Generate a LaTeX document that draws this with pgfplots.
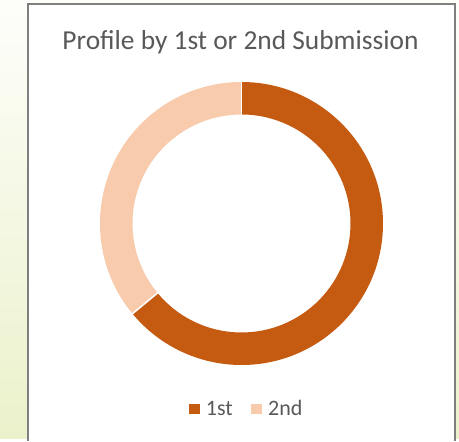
\documentclass[border=0pt]{standalone}
\usepackage{fontspec}
\setmainfont{Carlito}
\usepackage{pgfplots}
\usepackage{pgfplotstable}
\pgfplotsset{compat=1.18}
\definecolor{first}{HTML}{C55A11}
\definecolor{second}{HTML}{F8CBAD}
\definecolor{txt}{HTML}{595959}
\definecolor{framec}{HTML}{7F7F7F}
\definecolor{bggreen}{HTML}{E2EBB3}
\pgfdeclareverticalshading{bgshade}{100bp}{color(0bp)=(bggreen); color(80bp)=(white); color(100bp)=(white)}
\pgfplotstableread{
label value
1st 64
2nd 36
}\donutdata
\begin{document}
\begin{tikzpicture}
\begin{axis}[
  width=459pt, height=439pt, scale only axis,
  xmin=0, xmax=459, ymin=0, ymax=439,
  hide axis, clip=false,
  legend columns=2,
  legend style={draw=none, fill=none, at={(axis cs:246.5,30)}, anchor=center,
    font=\fontsize{22}{26}\selectfont\color{txt},
    /tikz/every odd column/.append style={column sep=0pt},
    /tikz/every even column/.append style={column sep=16pt},
    legend cell align=left, inner sep=0pt},
  legend image code/.code={\fill[#1] (0pt,-4.5pt) rectangle (10pt,4.5pt); \path (15pt,0pt);},
]
% background and frame
\path[shading=bgshade] (axis cs:0,0) rectangle (axis cs:459,439);
\fill[white] (axis cs:28,0) rectangle (axis cs:455,435);
\draw[framec, line width=2pt] (axis cs:28,-2) -- (axis cs:28,435) -- (axis cs:455,435) -- (axis cs:455,-2);
% donut from table values
\pgfplotstablegetelem{0}{value}\of\donutdata \let\va\pgfplotsretval
\pgfplotstablegetelem{1}{value}\of\donutdata \let\vb\pgfplotsretval
\pgfmathsetmacro{\tot}{\va+\vb}
\pgfmathsetmacro{\angA}{90-360*(\va/\tot)}
\pgfmathsetmacro{\angB}{\angA-360*(\vb/\tot)}
\coordinate (c) at (axis cs:241.5,215.5);
\fill[first] ([shift={(90:141.5pt)}]c) arc[start angle=90, end angle=\angA, radius=141.5pt]
  -- ([shift={(\angA:109pt)}]c) arc[start angle=\angA, end angle=90, radius=109pt] -- cycle;
\fill[second] ([shift={(\angA:141.5pt)}]c) arc[start angle=\angA, end angle=\angB, radius=141.5pt]
  -- ([shift={(\angB:109pt)}]c) arc[start angle=\angB, end angle=\angA, radius=109pt] -- cycle;
\draw[white, line width=1.6pt] ([shift={(90:108pt)}]c) -- ([shift={(90:142.5pt)}]c);
\draw[white, line width=1.6pt] ([shift={(\angA:108pt)}]c) -- ([shift={(\angA:142.5pt)}]c);
% title
\node[anchor=base, text=txt, font=\fontsize{27.4}{32}\selectfont] at (axis cs:240.5,389) {Profile by 1st or 2nd Submission};
% legend
\addlegendimage{first}
\addlegendentry{1st}
\addlegendimage{second}
\addlegendentry{2nd}
\end{axis}
\end{tikzpicture}
\end{document}
